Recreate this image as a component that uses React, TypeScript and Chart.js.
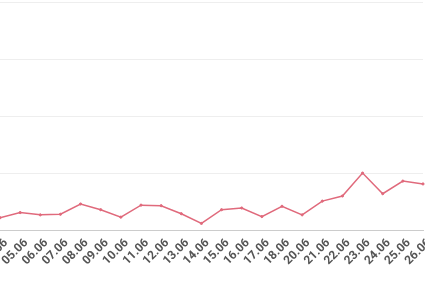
import React, { useEffect, useRef } from "react";
import { Chart, registerables } from "chart.js";

Chart.register(...registerables);

const categories = [
  "04.06", "05.06", "06.06", "07.06", "08.06", "09.06", "10.06", "11.06",
  "12.06", "13.06", "14.06", "15.06", "16.06", "17.06", "18.06", "20.06",
  "21.06", "22.06", "23.06", "24.06", "25.06", "26.06",
];

const seriesValues = [
  23, 32, 28, 29, 47, 37, 24, 45, 44, 30, 13, 37, 40, 25, 43, 28, 52, 61, 101, 65, 87, 82,
];

const yTicks = { min: 0, max: 400, step: 100 };

export default function App() {
  const ref = useRef<HTMLCanvasElement>(null);

  useEffect(() => {
    if (!ref.current) return;
    const chart = new Chart(ref.current, {
      type: "line",
      data: {
        labels: categories,
        datasets: [
          {
            data: seriesValues,
            borderColor: "#e06a7c",
            backgroundColor: "#e06a7c",
            pointBackgroundColor: "#e06a7c",
            pointBorderColor: "#e06a7c",
            borderWidth: 1.5,
            pointRadius: 1.1,
            pointBorderWidth: 1,
            tension: 0,
            fill: false,
          },
        ],
      },
      options: {
        responsive: false,
        animation: false,
        layout: { autoPadding: false, padding: { top: 2, right: 2, bottom: 11, left: 0 } },
        plugins: { legend: { display: false }, tooltip: { enabled: false } },
        scales: {
          x: {
            offset: false,
            grid: { display: false, drawTicks: false },
            border: { display: true, color: "#cccccc" },
            ticks: {
              autoSkip: false,
              minRotation: 45,
              maxRotation: 45,
              padding: 5,
              labelOffset: 6,
              color: "#555555",
              font: { family: "Roboto", size: 12, weight: "bold" },
            },
            afterFit: (scale: any) => {
              scale.paddingLeft = 0;
              scale.paddingRight = 0;
            },
          },
          y: {
            min: yTicks.min,
            max: yTicks.max,
            grid: { color: "#eeeeee", drawTicks: false },
            border: { display: false },
            ticks: { display: false, stepSize: yTicks.step },
          },
        },
      },
    });
    return () => chart.destroy();
  }, []);

  return (
    <div style={{ position: "fixed", left: 0, top: 0, width: 425, height: 284, overflow: "hidden", background: "#fff" }}>
      <canvas ref={ref} width={425} height={284} />
    </div>
  );
}
